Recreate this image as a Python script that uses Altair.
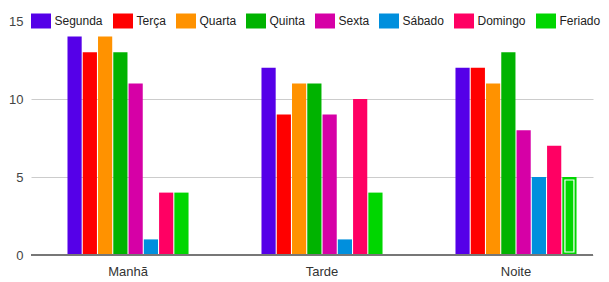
import altair as alt
import pandas as pd

periods = ["Manhã", "Tarde", "Noite"]
days = ["Segunda", "Terça", "Quarta", "Quinta", "Sexta", "Sábado", "Domingo", "Feriado"]
colors = ["#5500e8", "#ff0000", "#ff9200", "#00b300", "#d600a6", "#008fdd", "#ff0063", "#00d600"]
manha = [14, 13, 14, 13, 11, 1, 4, 4]
tarde = [12, 9, 11, 11, 9, 1, 10, 4]
noite = [12, 12, 11, 13, 8, 5, 7, 5]

rows = []
for p, vals in zip(periods, [manha, tarde, noite]):
    for d, v in zip(days, vals):
        rows.append({"periodo": p, "dia": d, "valor": v})
df = pd.DataFrame(rows)

FONT = "Liberation Sans, Arial, sans-serif"

x_enc = alt.X("periodo:N", sort=periods, title=None,
              scale=alt.Scale(paddingInner=0.376, paddingOuter=0.1365, align=0.689),
              axis=alt.Axis(labelAngle=0, ticks=False, domain=False, labelPadding=10,
                            labelFontSize=13, labelColor="#333", labelFont=FONT))
xoff_enc = alt.XOffset("dia:N", sort=days, scale=alt.Scale(domain=days, paddingInner=0.07, paddingOuter=0))

bars = alt.Chart(df).mark_bar().encode(
    x=x_enc,
    xOffset=xoff_enc,
    y=alt.Y("valor:Q", title=None,
            scale=alt.Scale(domain=[0, 15], nice=False),
            axis=alt.Axis(values=[0, 2.5, 5, 7.5, 10, 12.5, 15],
                          labelExpr="datum.value % 5 == 0 ? datum.label : ''",
                          ticks=False, domain=False, labelPadding=8,
                          labelFontSize=13, labelColor="#444", labelFont=FONT,
                          gridColor={"condition": {"test": "datum.value % 5 == 0", "value": "#cccccc"},
                                     "value": "#ebebeb"})),
    color=alt.Color("dia:N", sort=days, scale=alt.Scale(domain=days, range=colors),
                    legend=alt.Legend(title=None, orient="none", direction="horizontal",
                                      legendX=2.5, legendY=-7.5,
                                      symbolType="M-1.33,-1H1.33V1H-1.33Z",
                                      symbolSize=225, symbolStrokeWidth=0, labelFontSize=12,
                                      labelFont=FONT, labelColor="#222", labelOffset=6,
                                      columnPadding=9, fillColor="white", padding=0)),
)

highlight = alt.Chart(df).transform_filter(
    "datum.dia == 'Feriado' && datum.periodo == 'Noite'"
).mark_bar(fill="transparent", fillOpacity=0, stroke="#ffffff", strokeWidth=1.2,
           strokeOpacity=1, size=9, yOffset=3, y2Offset=-3).encode(
    x=x_enc,
    xOffset=xoff_enc,
    y=alt.Y("valor:Q"),
    y2=alt.Y2(datum=0),
)

base = alt.Chart(pd.DataFrame({"z": [0]})).mark_rule(color="#777", strokeWidth=2).encode(
    y=alt.Y("z:Q")
)

chart = alt.layer(bars, highlight, base).properties(
    width=562, height=234,
    padding={"top": 5, "left": 0, "right": 0, "bottom": 0},
).configure_view(stroke=None)

chart.save("out.html", embed_options={"renderer": "svg", "actions": False})
